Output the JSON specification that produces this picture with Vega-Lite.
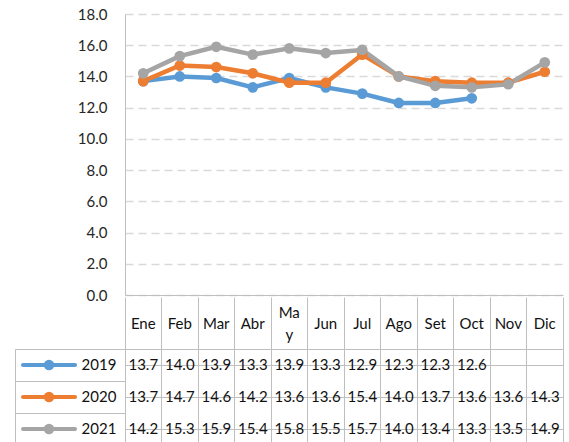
{
  "$schema": "https://vega.github.io/schema/vega-lite/v6.json",
  "padding": {"left": 14, "top": 7, "right": 0, "bottom": 0},
  "spacing": -7,
  "datasets": {
    "vals": [
      {"series": "2019", "month": "Ene", "value": 13.7},
      {"series": "2019", "month": "Feb", "value": 14.0},
      {"series": "2019", "month": "Mar", "value": 13.9},
      {"series": "2019", "month": "Abr", "value": 13.3},
      {"series": "2019", "month": "May", "value": 13.9},
      {"series": "2019", "month": "Jun", "value": 13.3},
      {"series": "2019", "month": "Jul", "value": 12.9},
      {"series": "2019", "month": "Ago", "value": 12.3},
      {"series": "2019", "month": "Set", "value": 12.3},
      {"series": "2019", "month": "Oct", "value": 12.6},
      {"series": "2020", "month": "Ene", "value": 13.7},
      {"series": "2020", "month": "Feb", "value": 14.7},
      {"series": "2020", "month": "Mar", "value": 14.6},
      {"series": "2020", "month": "Abr", "value": 14.2},
      {"series": "2020", "month": "May", "value": 13.6},
      {"series": "2020", "month": "Jun", "value": 13.6},
      {"series": "2020", "month": "Jul", "value": 15.4},
      {"series": "2020", "month": "Ago", "value": 14.0},
      {"series": "2020", "month": "Set", "value": 13.7},
      {"series": "2020", "month": "Oct", "value": 13.6},
      {"series": "2020", "month": "Nov", "value": 13.6},
      {"series": "2020", "month": "Dic", "value": 14.3},
      {"series": "2021", "month": "Ene", "value": 14.2},
      {"series": "2021", "month": "Feb", "value": 15.3},
      {"series": "2021", "month": "Mar", "value": 15.9},
      {"series": "2021", "month": "Abr", "value": 15.4},
      {"series": "2021", "month": "May", "value": 15.8},
      {"series": "2021", "month": "Jun", "value": 15.5},
      {"series": "2021", "month": "Jul", "value": 15.7},
      {"series": "2021", "month": "Ago", "value": 14.0},
      {"series": "2021", "month": "Set", "value": 13.4},
      {"series": "2021", "month": "Oct", "value": 13.3},
      {"series": "2021", "month": "Nov", "value": 13.5},
      {"series": "2021", "month": "Dic", "value": 14.9}
    ],
    "ser": [
      {"series": "2019"},
      {"series": "2020"},
      {"series": "2021"}
    ],
    "none": []
  },
  "vconcat": [
    {
      "spacing": 0,
      "bounds": "flush",
      "hconcat": [
        {
          "width": 110,
          "height": 281,
          "view": {"stroke": null},
          "data": {"name": "none"},
          "mark": {"type": "point", "opacity": 0},
          "encoding": {}
        },
        {
          "width": 438,
          "height": 281,
          "view": {"stroke": null},
          "data": {"name": "vals"},
          "mark": {"type": "line", "interpolate": "linear", "strokeWidth": 4.5, "strokeJoin": "round", "point": {"filled": true, "size": 115, "opacity": 1}},
          "encoding": {
            "x": {
              "field": "month", "type": "ordinal",
              "sort": ["Ene", "Feb", "Mar", "Abr", "May", "Jun", "Jul", "Ago", "Set", "Oct", "Nov", "Dic"],
              "scale": {"type": "point", "padding": 0.5},
              "axis": {"title": null, "labels": false, "ticks": false, "domain": true, "domainColor": "#bfbfbf", "domainWidth": 1, "grid": false}
            },
            "y": {
              "field": "value", "type": "quantitative",
              "scale": {"domain": [0, 18], "nice": false},
              "axis": {
                "title": null, "values": [0, 2, 4, 6, 8, 10, 12, 14, 16, 18], "format": ".1f",
                "ticks": false, "labelPadding": 18,
                "domainColor": "#bfbfbf", "domainWidth": 1,
                "grid": true, "gridColor": "#d9d9d9", "gridDash": [8, 5], "gridWidth": 1.5,
                "labelFontSize": 15, "labelFont": "Lato", "labelColor": "#262626"
              }
            },
            "color": {
              "field": "series", "type": "nominal",
              "scale": {"domain": ["2019", "2020", "2021"], "range": ["#5b9bd5", "#ed7d31", "#a5a5a5"]},
              "legend": null
            }
          }
        }
      ]
    },
    {
      "spacing": 0,
      "bounds": "flush",
      "hconcat": [
        {
          "width": 110,
          "height": 96,
          "data": {"name": "ser"},
          "encoding": {
            "y": {
              "field": "series", "type": "nominal",
              "scale": {"domain": ["2019", "2020", "2021"], "paddingInner": 0, "paddingOuter": 0},
              "axis": {"title": null, "labels": false, "ticks": false, "domain": false, "grid": true, "gridColor": "#bfbfbf", "bandPosition": 0, "minExtent": 0}
            },
            "color": {
              "field": "series", "type": "nominal",
              "scale": {"domain": ["2019", "2020", "2021"], "range": ["#5b9bd5", "#ed7d31", "#a5a5a5"]},
              "legend": null
            }
          },
          "layer": [
            {
              "mark": {"type": "tick", "orient": "horizontal", "size": 56, "thickness": 4, "opacity": 1, "cornerRadius": 2},
              "encoding": {
                "x": {"datum": "sym", "type": "nominal", "scale": {"type": "point", "domain": ["sym", "lab"], "padding": 0.6, "align": 0.567}, "axis": null}
              }
            },
            {
              "mark": {"type": "point", "filled": true, "size": 110, "opacity": 1},
              "encoding": {
                "x": {"datum": "sym", "type": "nominal", "scale": {"type": "point", "domain": ["sym", "lab"], "padding": 0.6, "align": 0.567}, "axis": null}
              }
            },
            {
              "mark": {"type": "text", "fontSize": 15, "font": "Lato", "color": "#111111"},
              "encoding": {
                "x": {"datum": "lab", "type": "nominal", "scale": {"type": "point", "domain": ["sym", "lab"], "padding": 0.6, "align": 0.6}, "axis": null},
                "text": {"field": "series"},
                "color": {"value": "#111111"}
              }
            }
          ]
        },
        {
          "width": 438,
          "height": 96,
          "data": {"name": "vals"},
          "mark": {"type": "text", "fontSize": 15, "font": "Lato", "color": "#111111"},
          "encoding": {
            "x": {
              "field": "month", "type": "ordinal",
              "sort": ["Ene", "Feb", "Mar", "Abr", "May", "Jun", "Jul", "Ago", "Set", "Oct", "Nov", "Dic"],
              "scale": {"type": "band", "domain": ["Ene", "Feb", "Mar", "Abr", "May", "Jun", "Jul", "Ago", "Set", "Oct", "Nov", "Dic"], "paddingInner": 0, "paddingOuter": 0},
              "axis": {
                "orient": "top", "title": null, "bandPosition": 1, "tickExtra": true,
                "tickSize": 52, "tickColor": "#bfbfbf", "tickWidth": 1,
                "labelPadding": {"condition": {"test": "datum.value == 'May'", "value": -15.5}, "value": -26},
                "labelBaseline": "middle", "labelAngle": 0,
                "labelFontSize": 15, "labelFont": "Lato", "labelColor": "#111111", "labelLineHeight": 22,
                "labelOverlap": false, "labelBound": false,
                "labelExpr": "datum.value == 'May' ? ['Ma', 'y'] : datum.label",
                "domain": false, "grid": true, "gridColor": "#bfbfbf"
              }
            },
            "y": {
              "field": "series", "type": "nominal",
              "scale": {"domain": ["2019", "2020", "2021"], "paddingInner": 0, "paddingOuter": 0},
              "axis": {"title": null, "labels": false, "ticks": false, "domain": false, "grid": true, "gridColor": "#bfbfbf", "bandPosition": 0, "minExtent": 0}
            },
            "text": {"field": "value", "type": "quantitative", "format": ".1f"}
          }
        }
      ]
    }
  ],
  "config": {
    "font": "Lato",
    "view": {"stroke": "#bfbfbf"},
    "axis": {"minExtent": 0}
  }
}
